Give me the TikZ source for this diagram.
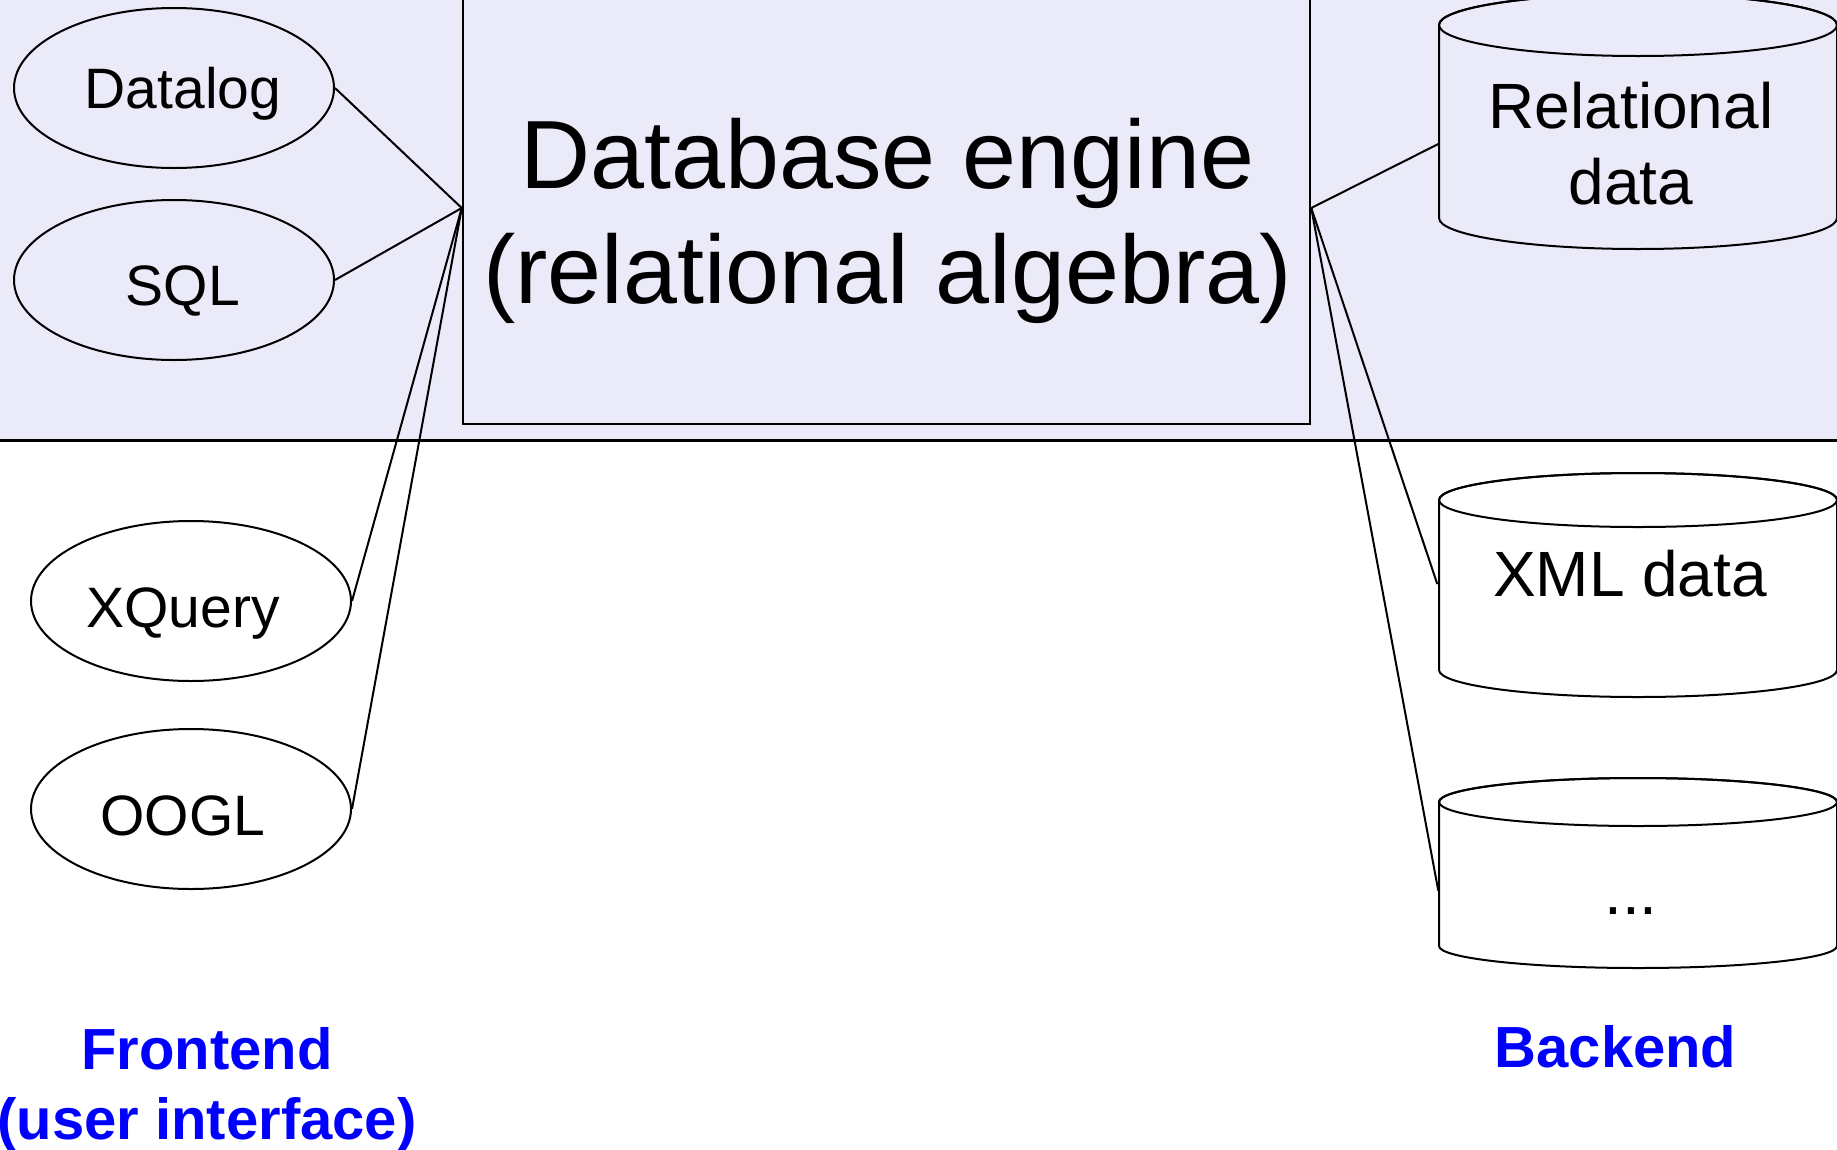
\documentclass[tikz,border=0pt]{standalone}
\usepackage{fontspec}
\setmainfont{Liberation Sans}
\usetikzlibrary{shapes.geometric}
\definecolor{band}{RGB}{234,234,248}
\definecolor{labelblue}{RGB}{0,0,255}
\begin{document}
\begin{tikzpicture}[x=1pt,y=1pt,
  lang/.style={ellipse, draw, line width=2pt, minimum width=320pt, minimum height=160pt, inner sep=0pt},
  langtext/.style={anchor=base, inner sep=0pt, font=\fontsize{57}{68}\selectfont},
  cyltext/.style={rectangle, minimum width=385pt, minimum height=60pt, inner sep=0pt, align=center, font=\fontsize{64}{76}\selectfont},
  cyl/.style={draw, line width=2pt},
  link/.style={line width=2pt},
  side/.style={text=labelblue, align=center, inner sep=0pt, font=\fontsize{58}{70}\selectfont\bfseries}]
\useasboundingbox (0,0) rectangle (1837,-1149);
% upper band
\fill[band] (0,0) rectangle (1837,-440);
\draw[line width=3pt] (0,-440) -- (1837,-440);
% engine
\node[draw, fill=band, line width=2.5pt, minimum width=847pt, minimum height=432pt, inner sep=0pt] (engine) at (886.5,-208) {};
\node[font=\fontsize{97}{115}\selectfont, align=center, inner sep=0pt] (enginetext) at (887.5,-220.5) {Database engine\\(relational algebra)};
% frontends
\node[lang, fill=band] (datalog) at (174,-88) {};
\node[lang, fill=band] (sql) at (174,-280) {};
\node[lang, fill=white] (xquery) at (191,-601) {};
\node[lang, fill=white] (oogl) at (191,-809) {};
\node[langtext] (datalogtext) at (183,-108) {Datalog};
\node[langtext] (sqltext) at (183,-305) {SQL};
\node[langtext] (xquerytext) at (183,-627) {XQuery};
\node[langtext] (oogltext) at (183,-835) {OOGL};
% cylinders
\filldraw[cyl, fill=band] (1439,-25) -- (1439,-218) arc[start angle=180,end angle=360,x radius=199pt,y radius=31pt] -- (1837,-25) arc[start angle=0,end angle=180,x radius=199pt,y radius=31pt] -- cycle;
\draw[cyl] (1638,-25) ellipse[x radius=199pt, y radius=31pt];
\filldraw[cyl, fill=white] (1439,-500) -- (1439,-670) arc[start angle=180,end angle=360,x radius=199pt,y radius=27pt] -- (1837,-500) arc[start angle=0,end angle=180,x radius=199pt,y radius=27pt] -- cycle;
\draw[cyl] (1638,-500) ellipse[x radius=199pt, y radius=27pt];
\filldraw[cyl, fill=white] (1439,-802) -- (1439,-946) arc[start angle=180,end angle=360,x radius=199pt,y radius=22pt] -- (1837,-802) arc[start angle=0,end angle=180,x radius=199pt,y radius=24pt] -- cycle;
\draw[cyl] (1638,-802) ellipse[x radius=199pt, y radius=24pt];
\node[cyltext] (rel) at (1631,-144) {Relational\\data};
\node[cyltext] (xml) at (1630,-574) {XML data};
\node[cyltext] (more) at (1631,-911) {...};
% connectors
\draw[link] (datalog.east) -- (engine.west);
\draw[link] (sql.east) -- (engine.west);
\draw[link] (xquery.east) -- (engine.west);
\draw[link] (oogl.east) -- (engine.west);
\draw[link] (engine.east) -- (rel.west);
\draw[link] (engine.east) -- (xml.183);
\draw[link] (engine.east) -- (more.174);
% labels
\node[side] (frontend) at (207,-1089.5) {Frontend\\(user interface)};
\node[side] (backend) at (1615.5,-1047) {Backend};
\end{tikzpicture}
\end{document}
